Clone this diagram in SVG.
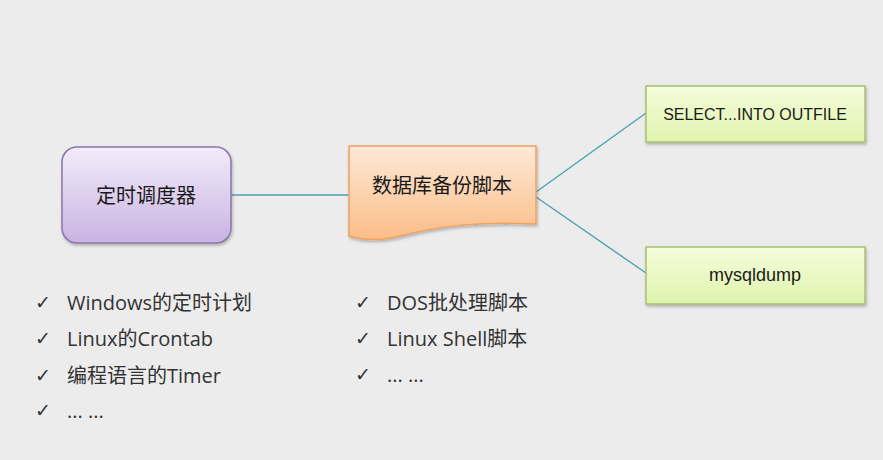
<svg xmlns="http://www.w3.org/2000/svg" width="883" height="460" viewBox="0 0 883 460">
<defs>
<linearGradient id="gPurple" x1="0" y1="0" x2="0" y2="1"><stop offset="0" stop-color="#f3ecfa"/><stop offset="1" stop-color="#c8b3e2"/></linearGradient>
<linearGradient id="gOrange" x1="0" y1="0" x2="0" y2="1"><stop offset="0" stop-color="#fde9d8"/><stop offset="1" stop-color="#fbbd86"/></linearGradient>
<linearGradient id="gGreen" x1="0" y1="0" x2="0" y2="1"><stop offset="0" stop-color="#f5fcdc"/><stop offset="1" stop-color="#e0f4ad"/></linearGradient>
<filter id="sh" x="-10%" y="-10%" width="125%" height="130%"><feDropShadow dx="1" dy="2" stdDeviation="1.5" flood-color="#000" flood-opacity="0.25"/></filter>
</defs>
<style>
.cjk{font-family:"Liberation Sans","Noto Sans CJK SC",sans-serif;fill:#1a1a1a}
.lbl{font-size:20px;text-anchor:middle;dominant-baseline:central}
.box{font-size:16px;text-anchor:middle;dominant-baseline:central}
.li{font-family:"Open Sans","Noto Sans CJK SC",sans-serif;font-size:20px;fill:#333}
.ck{font-family:"DejaVu Sans",sans-serif;font-size:19px;fill:#333}
.conn{stroke:#4aa3b2;stroke-width:1.4;fill:none}
</style>
<rect width="883" height="460" fill="#ececec"/>
<g id="connectors">
<line class="conn" x1="231" y1="195" x2="349" y2="195"/>
<line class="conn" x1="536" y1="192" x2="646" y2="113"/>
<line class="conn" x1="536" y1="197" x2="646" y2="273"/>
</g>
<g id="scheduler">
<rect x="62" y="147" width="169" height="96" rx="15" fill="url(#gPurple)" stroke="#8a76aa" stroke-width="1.5" filter="url(#sh)"/>
<text class="cjk lbl" x="146" y="196">定时调度器</text>
</g>
<g id="script">
<path d="M349,146 H536 V224 C480,221 440,226 400,236 C380,241 365,241 349,236 Z" fill="url(#gOrange)" stroke="#f0a060" stroke-width="1.5" filter="url(#sh)"/>
<text class="cjk lbl" x="442" y="186">数据库备份脚本</text>
</g>
<g id="select">
<rect x="646" y="86" width="219" height="56" fill="url(#gGreen)" stroke="#a8bf73" stroke-width="1.5" filter="url(#sh)"/>
<text class="cjk box" x="755" y="114">SELECT...INTO OUTFILE</text>
</g>
<g id="mysqldump">
<rect x="646" y="247" width="219" height="57" fill="url(#gGreen)" stroke="#a8bf73" stroke-width="1.5" filter="url(#sh)"/>
<text class="cjk box" x="755" y="275" style="font-size:18px">mysqldump</text>
</g>
<g id="list-left">
<text class="ck" x="35" y="309">✓</text><text class="cjk li" x="67" y="310">Windows的定时计划</text>
<text class="ck" x="35" y="345">✓</text><text class="cjk li" x="67" y="346">Linux的Crontab</text>
<text class="ck" x="35" y="382">✓</text><text class="cjk li" x="67" y="383">编程语言的Timer</text>
<text class="ck" x="35" y="417">✓</text><text class="cjk li" x="67" y="418">... ...</text>
</g>
<g id="list-right">
<text class="ck" x="355" y="309">✓</text><text class="cjk li" x="387" y="310">DOS批处理脚本</text>
<text class="ck" x="355" y="345">✓</text><text class="cjk li" x="387" y="346">Linux Shell脚本</text>
<text class="ck" x="355" y="381">✓</text><text class="cjk li" x="387" y="382">... ...</text>
</g>
</svg>
